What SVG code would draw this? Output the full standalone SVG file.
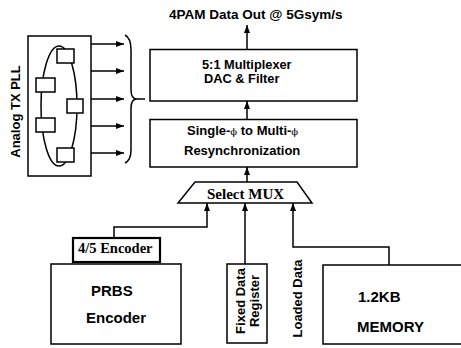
<svg xmlns="http://www.w3.org/2000/svg" width="461" height="348" viewBox="0 0 461 348">
<defs>
<marker id="ah" markerWidth="8" markerHeight="6" refX="8" refY="3" orient="auto" markerUnits="userSpaceOnUse">
<path d="M0,0 L8,3 L0,6 Z" fill="#000"/>
</marker>
<style>
.box{fill:#fff;stroke:#000;stroke-width:1.5}
.ln{fill:none;stroke:#000;stroke-width:1.5}
.sans{font-family:"Liberation Sans",Arial,sans-serif;font-weight:bold;fill:#000}
.serif{font-family:"Liberation Serif","Times New Roman",serif;font-weight:bold;fill:#000}
.phi{font-family:"DejaVu Serif",serif;font-weight:normal;font-size:10px}
</style>
</defs>
<rect width="461" height="348" fill="#fff"/>

<g id="title">
<text class="sans" x="169" y="19" font-size="13.5">4PAM Data Out @ 5Gsym/s</text>
</g>

<g id="pll">
<rect class="box" x="28" y="36" width="63" height="140"/>
<ellipse class="ln" cx="59" cy="106" rx="18" ry="60"/>
<rect class="box" x="57" y="49" width="17" height="14"/>
<rect class="box" x="36" y="78" width="19" height="14"/>
<rect class="box" x="67" y="99" width="16" height="14"/>
<rect class="box" x="36" y="118" width="19" height="14"/>
<rect class="box" x="57" y="148" width="17" height="14"/>
<text class="sans" font-size="13" text-anchor="middle" transform="translate(20,111.5) rotate(-90)">Analog TX PLL</text>
</g>

<g id="mux51">
<rect class="box" x="150" y="49.5" width="207" height="51.5"/>
<text class="sans" x="202" y="69" font-size="12.8">5:1 Multiplexer</text>
<text class="sans" x="204" y="83" font-size="12.8">DAC &amp; Filter</text>
</g>

<g id="resync">
<rect class="box" x="150" y="119.5" width="207" height="47.5"/>
<text class="sans" x="187" y="135" font-size="13">Single-<tspan class="phi">ϕ</tspan> to Multi-<tspan class="phi">ϕ</tspan></text>
<text class="sans" x="184" y="155" font-size="13">Resynchronization</text>
</g>

<g id="selectmux">
<polygon class="box" points="195,182 297,182 312,203 178,203"/>
<text class="serif" x="207" y="199" font-size="15">Select MUX</text>
</g>

<g id="encoder45">
<rect x="73" y="238" width="87" height="24" fill="#fff" stroke="#000" stroke-width="2.2"/>
<text class="serif" x="78" y="253" font-size="14.5">4/5 Encoder</text>
</g>

<g id="prbs">
<rect class="box" x="51" y="264" width="130" height="80"/>
<text class="sans" x="91" y="296" font-size="15">PRBS</text>
<text class="sans" x="86" y="323" font-size="15">Encoder</text>
</g>

<g id="fixed">
<rect class="box" x="227" y="264" width="40" height="79"/>
<text class="sans" font-size="13" text-anchor="middle" transform="translate(245,301) rotate(-90)">Fixed Data</text>
<text class="sans" font-size="13" text-anchor="middle" transform="translate(259,301) rotate(-90)">Register</text>
</g>

<g id="loaded">
<text class="sans" font-size="13" text-anchor="middle" transform="translate(302,298.5) rotate(-90)">Loaded Data</text>
</g>

<g id="memory">
<rect class="box" x="323" y="265" width="150" height="79"/>
<text class="sans" x="358" y="302" font-size="15">1.2KB</text>
<text class="sans" x="357" y="332" font-size="15">MEMORY</text>
</g>

<g id="connectors">
<line class="ln" x1="91" y1="44" x2="124" y2="44" marker-end="url(#ah)"/>
<line class="ln" x1="91" y1="71" x2="124" y2="71" marker-end="url(#ah)"/>
<line class="ln" x1="91" y1="99" x2="124" y2="99" marker-end="url(#ah)"/>
<line class="ln" x1="91" y1="126" x2="124" y2="126" marker-end="url(#ah)"/>
<line class="ln" x1="91" y1="153" x2="124" y2="153" marker-end="url(#ah)"/>
<path class="ln" d="M125,35 Q131,38 131,50 L131,90 Q131,99 137,99 Q131,99 131,108 L131,150 Q131,160 125,163"/>
<line class="ln" x1="137" y1="99" x2="145" y2="99"/>
<line class="ln" x1="247" y1="49.5" x2="247" y2="25" marker-end="url(#ah)"/>
<line class="ln" x1="247" y1="119.5" x2="247" y2="101" marker-end="url(#ah)"/>
<line class="ln" x1="247" y1="182" x2="247" y2="167" marker-end="url(#ah)"/>
<polyline class="ln" points="114,238 114,227 207,227 207,203" marker-end="url(#ah)"/>
<line class="ln" x1="245" y1="264" x2="245" y2="203" marker-end="url(#ah)"/>
<polyline class="ln" points="389,265 389,247 293,247 293,203" marker-end="url(#ah)"/>
</g>
</svg>
